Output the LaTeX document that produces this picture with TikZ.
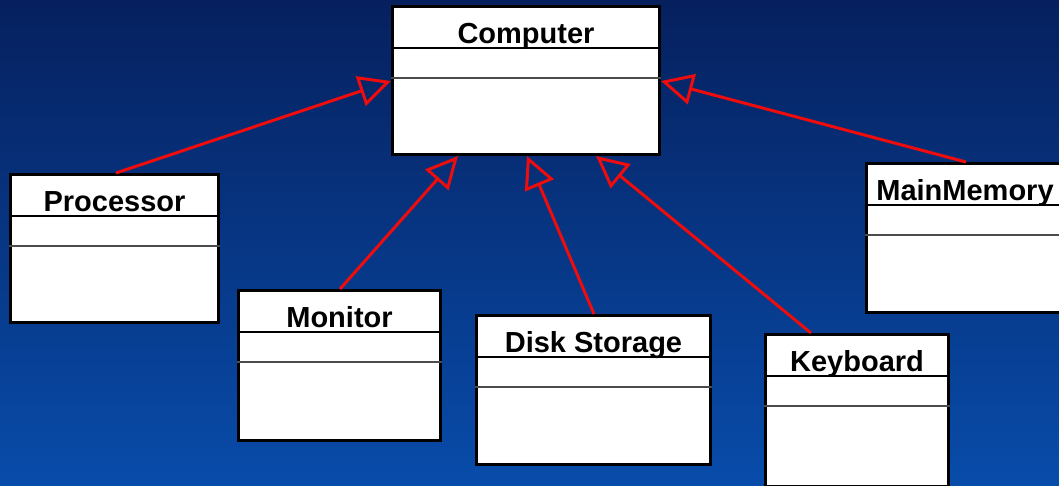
\documentclass[tikz,border=0pt]{standalone}
\usepackage{fontspec}
\setmainfont{Liberation Sans}
\usetikzlibrary{arrows.meta,calc}
\definecolor{bgtop}{RGB}{6,32,94}
\definecolor{bgbot}{RGB}{8,76,170}
\definecolor{arrowred}{RGB}{238,12,12}
\tikzset{
  classbox/.style={draw=black, fill=white, line width=3pt, inner sep=0pt},
  septhick/.style={draw=black, line width=2.6pt},
  septhin/.style={draw=black!70, line width=1.8pt},
  classtitle/.style={font=\fontsize{29}{32}\selectfont\bfseries, text=black, inner sep=0pt},
  gen/.style={draw=arrowred, line width=3pt, -{Triangle[open, length=32pt, width=31pt]}},
}
\newcommand\umlclass[6]{%
  \node[classbox, anchor=north west, minimum width=#4pt, minimum height=#5pt] (#1) at (#2,#3) {};
  \draw[septhick] ([yshift=-43pt]#1.north west) -- ([yshift=-43pt]#1.north east);
  \draw[septhin] ([yshift=-73pt]#1.north west) -- ([yshift=-73pt]#1.north east);
  \node[classtitle, anchor=base] (#1-title) at ([yshift=-38.5pt]#1.north) {#6};
}
\begin{document}
\begin{tikzpicture}[x=1pt,y=-1pt]
  \useasboundingbox (0,0) rectangle (1059,485);
  \clip (0,0) rectangle (1059,485);
  \shade[top color=bgtop, bottom color=bgbot] (0,0) rectangle (1059,485);

  \umlclass{comp}{391}{5}{267}{148}{Computer}
  \umlclass{proc}{9}{173}{208}{148}{Processor}
  \umlclass{mon}{237}{289}{202}{150}{Monitor}
  \umlclass{disk}{475}{314}{234}{149}{Disk Storage}
  \umlclass{key}{764}{333}{183}{152}{Keyboard}
  \umlclass{mem}{865}{162}{197}{149}{MainMemory}

  \draw[gen] ([xshift=107pt]proc.north west) -- ([yshift=-76pt]comp.north west);
  \draw[gen] ([xshift=103pt]mon.north west) -- ([xshift=67pt]comp.south west);
  \draw[gen] ([xshift=119pt]disk.north west) -- ([xshift=136pt]comp.south west);
  \draw[gen] ([xshift=47pt]key.north west) -- ([xshift=205pt]comp.south west);
  \draw[gen] ([xshift=101pt]mem.north west) -- ([yshift=-76pt]comp.north east);
\end{tikzpicture}
\end{document}
